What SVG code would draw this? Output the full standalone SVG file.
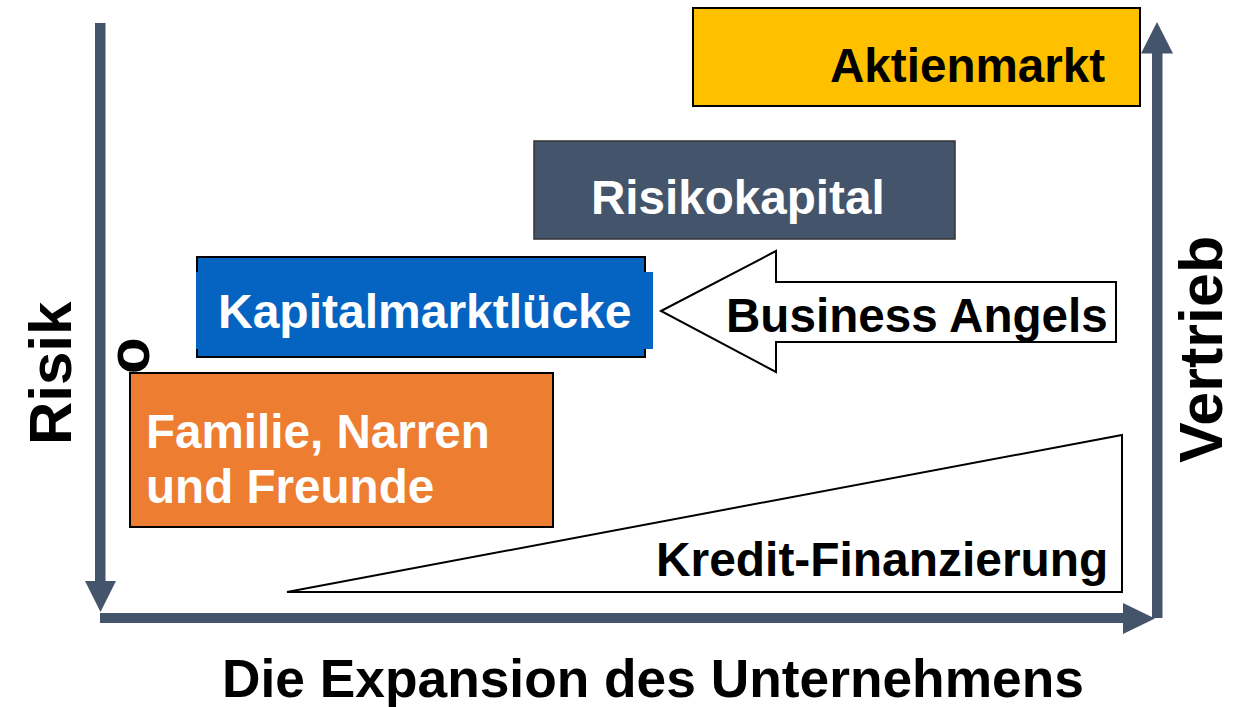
<svg xmlns="http://www.w3.org/2000/svg" width="1234" height="707" viewBox="0 0 1234 707">
<style>
text{font-family:"Liberation Sans",Arial,sans-serif;font-weight:bold;}
.w{fill:#FFFFFF;font-size:47.6px;}
.b{fill:#000000;font-size:47.6px;}
.axis{fill:#44546A;}
.box{stroke:#000;stroke-width:2;}
</style>
<rect width="1234" height="707" fill="#FFFFFF"/>
<g id="connectors">
<rect class="axis" x="95" y="23" width="10.5" height="559"/>
<polygon class="axis" points="85,581 116,581 100.5,612"/>
<rect class="axis" x="100" y="613" width="1024" height="10"/>
<polygon class="axis" points="1123,603 1123,634 1155,618.5"/>
<rect class="axis" x="1152" y="52" width="10.5" height="566"/>
<polygon class="axis" points="1141,53.5 1173,53.5 1157,22"/>
</g>
<g id="aktienmarkt">
<rect class="box" x="693" y="8" width="447" height="98" fill="#FFC000"/>
<text class="b" x="830" y="82" font-size="47.3">Aktienmarkt</text>
</g>
<g id="risikokapital">
<rect x="534" y="141" width="421" height="98" fill="#44546A" stroke="#333" stroke-width="1.5"/>
<text class="w" x="591" y="214">Risikokapital</text>
</g>
<g id="kapitalmarktluecke">
<rect class="box" x="197" y="257" width="448" height="100" fill="#0563C1"/>
<rect x="196" y="272" width="457" height="77" fill="#0563C1"/>
<text class="w" x="218" y="328" style="font-size:48px">Kapitalmarktlücke</text>
</g>
<g id="business-angels">
<polygon points="661,311 776,251 776,282 1116,282 1116,342 776,342 776,372" fill="#FFFFFF" stroke="#000" stroke-width="2"/>
<text class="b" x="726" y="332">Business Angels</text>
</g>
<g id="familie">
<rect class="box" x="130" y="373" width="423" height="154" fill="#ED7D31"/>
<text class="w" x="146" y="448">Familie, Narren</text>
<text class="w" x="146" y="503">und Freunde</text>
</g>
<g id="kredit">
<polygon points="287,592 1122,435 1122,592" fill="#FFFFFF" stroke="#000" stroke-width="2"/>
<text class="b" x="656" y="576" style="font-size:47.9px">Kredit-Finanzierung</text>
</g>
<g id="labels">
<text transform="translate(71,445) rotate(-90)" font-size="60" fill="#000">Risik</text>
<text transform="translate(149,374) rotate(-90)" font-size="60" fill="#000">o</text>
<text transform="translate(1222,463) rotate(-90)" font-size="61" fill="#000">Vertrieb</text>
<text x="222" y="697" font-size="53.3" fill="#000">Die Expansion des Unternehmens</text>
</g>
</svg>
